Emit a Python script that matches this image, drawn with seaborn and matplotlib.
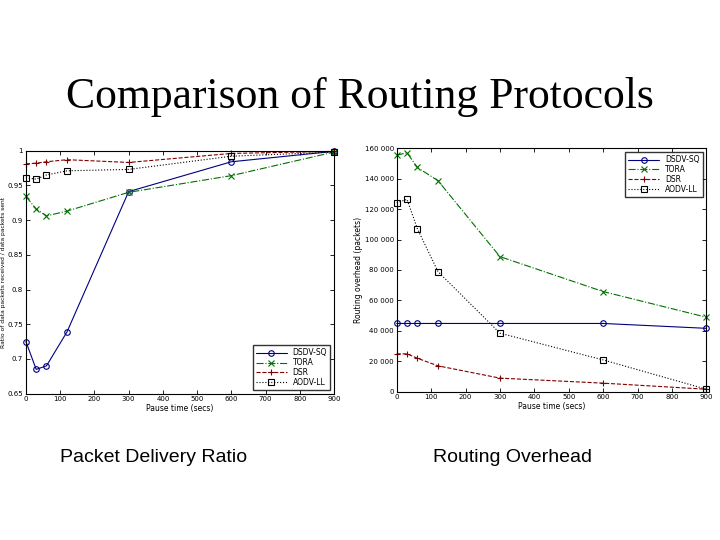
import numpy as np
import pandas as pd
import seaborn as sns
import matplotlib.pyplot as plt
from matplotlib.ticker import FuncFormatter, MultipleLocator

# Pause times (secs) used in the simulation
pause_times = [0, 30, 60, 120, 300, 600, 900]

# Packet delivery ratio per protocol
pdr_dsdv = [0.725, 0.685, 0.690, 0.739, 0.941, 0.984, 0.999]
pdr_tora = [0.934, 0.916, 0.906, 0.913, 0.940, 0.964, 0.998]
pdr_dsr = [0.981, 0.982, 0.984, 0.987, 0.983, 0.996, 0.999]
pdr_aodv = [0.961, 0.959, 0.965, 0.971, 0.973, 0.992, 0.998]

# Routing overhead (packets) per protocol
ovh_dsdv = [44800, 44800, 44800, 44800, 44800, 44800, 41600]
ovh_tora = [155600, 157200, 147500, 138800, 88800, 65800, 48900]
ovh_dsr = [24800, 24800, 21900, 16900, 8800, 5500, 1500]
ovh_aodv = [124300, 126500, 107200, 78900, 38400, 20800, 1500]

protocols = ["DSDV-SQ", "TORA", "DSR", "AODV-LL"]
colors = ["#000080", "#007000", "#800000", "#000000"]
markers = ["o", "x", "+", "s"]
linestyles = ["-", "-.", "--", ":"]

sns.set_style("ticks")
plt.rcParams["xtick.direction"] = "in"
plt.rcParams["ytick.direction"] = "in"
plt.rcParams["xtick.top"] = True
plt.rcParams["ytick.right"] = True
plt.rcParams["text.color"] = "black"
plt.rcParams["axes.labelcolor"] = "black"
plt.rcParams["xtick.color"] = "black"
plt.rcParams["ytick.color"] = "black"
plt.rcParams["font.family"] = ["DejaVu Sans"]

fig = plt.figure(figsize=(7.2, 5.4), dpi=100)
ax1 = fig.add_axes([0.036, 0.271, 0.428, 0.450])
ax2 = fig.add_axes([0.551, 0.275, 0.430, 0.450])


def draw(ax, series):
    for vals, name, c, m, ls in zip(series, protocols, colors, markers, linestyles):
        df = pd.DataFrame({"pause": pause_times, "value": vals})
        sns.lineplot(
            data=df, x="pause", y="value", ax=ax, color=c, marker=m,
            linestyle=ls, linewidth=0.8, markersize=4, markerfacecolor="none",
            markeredgecolor=c, markeredgewidth=0.8, label=name, clip_on=False,
        )
    ax.set_xlim(0, 900)
    ax.xaxis.set_major_locator(MultipleLocator(100))
    ax.tick_params(labelsize=5, length=3, width=0.6, pad=2)
    ax.set_xlabel("Pause time (secs)", fontsize=5.5, labelpad=1)
    for s in ax.spines.values():
        s.set_linewidth(0.8)
        s.set_color("black")


draw(ax1, [pdr_dsdv, pdr_tora, pdr_dsr, pdr_aodv])
ax1.set_ylim(0.65, 1.0)
ax1.yaxis.set_major_locator(MultipleLocator(0.05))
ax1.yaxis.set_major_formatter(FuncFormatter(lambda v, p: f"{v:g}"))
ax1.set_ylabel("Ratio of data packets received / data packets sent", fontsize=4.3, labelpad=1)
ax1.legend(loc="lower right", fontsize=5.5, frameon=True, fancybox=False,
           edgecolor="black", handlelength=4, borderpad=0.4, labelspacing=0.1)

draw(ax2, [ovh_dsdv, ovh_tora, ovh_dsr, ovh_aodv])
ax2.set_ylim(0, 160000)
ax2.yaxis.set_major_locator(MultipleLocator(20000))
ax2.yaxis.set_major_formatter(FuncFormatter(lambda v, p: f"{int(v):,}".replace(",", " ")))
ax2.set_ylabel("Routing overhead (packets)", fontsize=5.5, labelpad=1)
ax2.legend(loc="upper right", fontsize=5.5, frameon=True, fancybox=False,
           edgecolor="black", handlelength=4, borderpad=0.4, labelspacing=0.1)

fig.text(0.5, 0.82, "Comparison of Routing Protocols", ha="center", va="center",
         fontsize=31.5, family="Liberation Serif")
fig.text(0.083, 0.152, "Packet Delivery Ratio", ha="left", va="center",
         fontsize=14, family="Liberation Sans")
fig.text(0.602, 0.152, "Routing Overhead", ha="left", va="center",
         fontsize=14, family="Liberation Sans")

fig.savefig("out.png", dpi=100)
